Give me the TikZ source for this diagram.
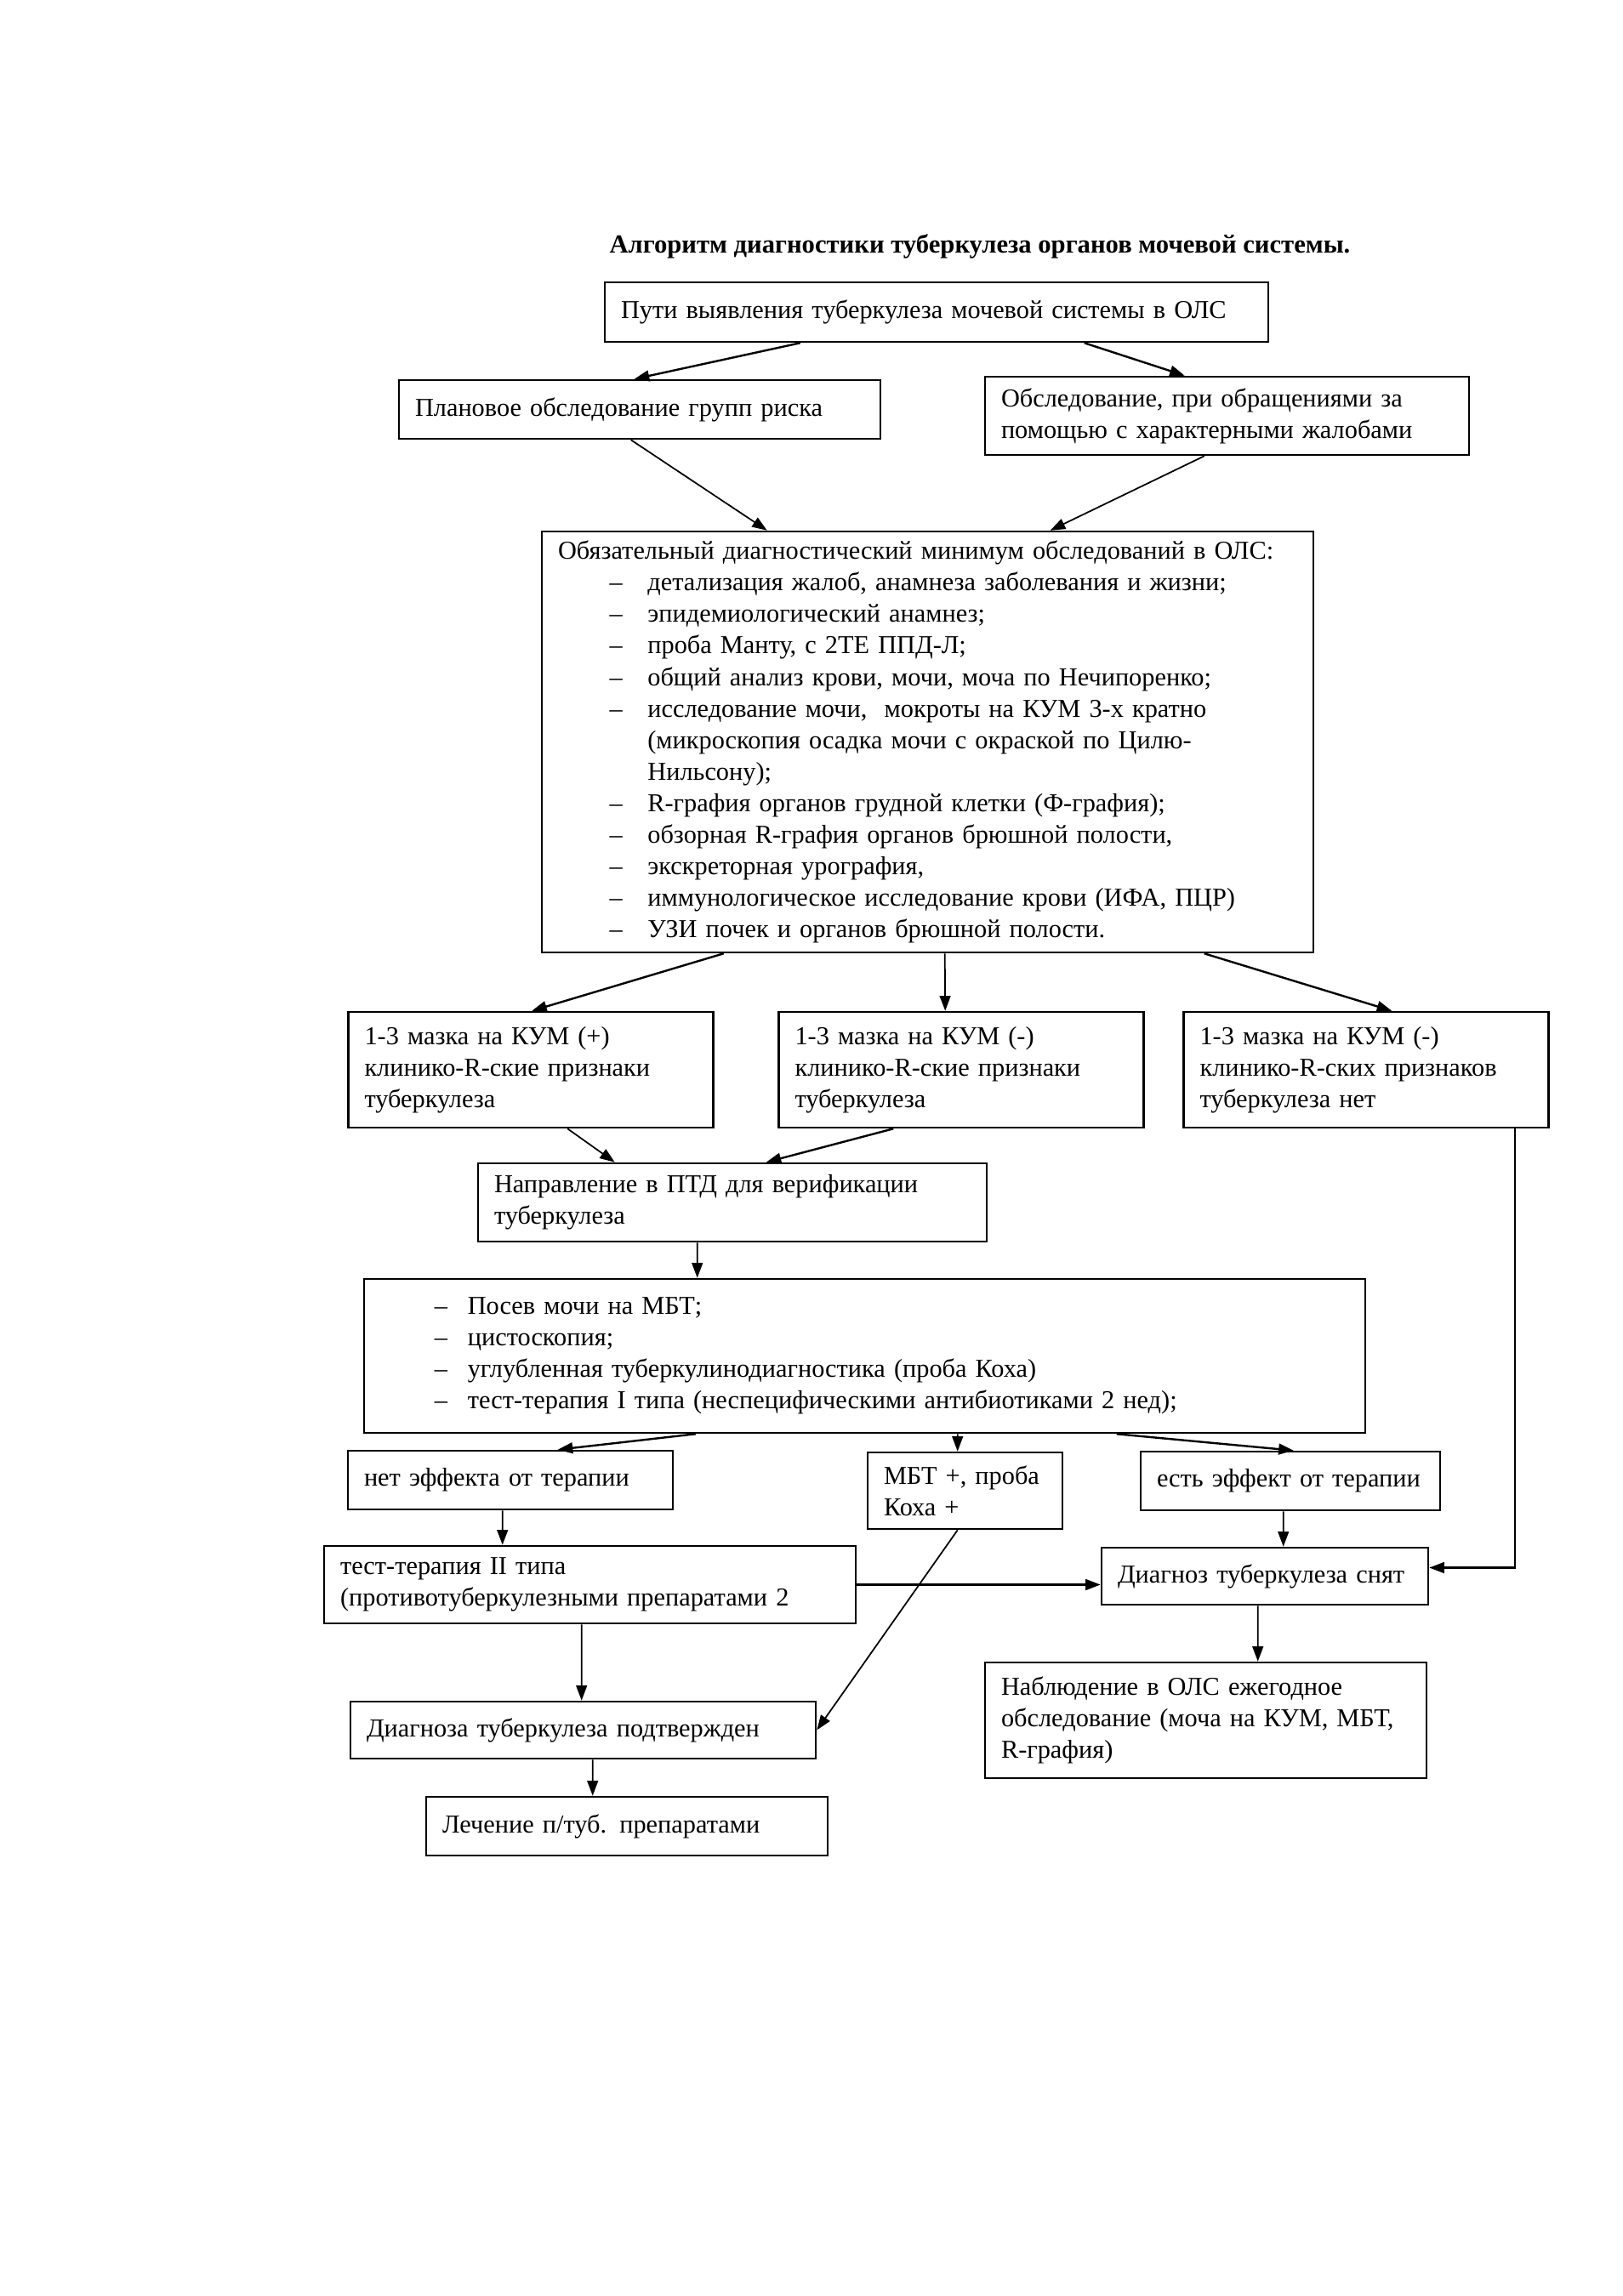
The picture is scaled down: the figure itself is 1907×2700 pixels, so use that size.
\documentclass[tikz,border=0pt]{standalone}
\usepackage{fontspec}
\setmainfont{Liberation Serif}
\usetikzlibrary{arrows.meta,calc}
\newcommand\ml[1]{\mbox{#1}}
\newcommand\itm[1]{\mbox{\hspace{19pt}\makebox[14pt][l]{–}#1}}
\newcommand\cnt[1]{\mbox{\hspace{33pt}#1}}
\newcommand\itmb[1]{\mbox{\hspace{20pt}\makebox[12.2pt][l]{–}#1}}
\begin{document}
\begin{tikzpicture}[x=0.31314pt,y=-0.31314pt,
  font=\fontsize{9.5pt}{11.6pt}\selectfont,
  bx/.style={draw, line width=0.8pt, rectangle, inner xsep=5.95pt, inner ysep=0pt, align=left},
  arr/.style={-{Triangle[length=5.5pt,width=4pt]}, line width=0.75pt},
  arrt/.style={-{Triangle[length=5.5pt,width=4pt]}, line width=0.55pt}]
\useasboundingbox (0,0) rectangle (1907,2700);

\node[font=\fontsize{9.6pt}{11.6pt}\selectfont\bfseries] (title) at (1152,290) {Алгоритм диагностики туберкулеза органов мочевой системы.};

\node[bx, text width=232.35pt, minimum height=21.92pt] (b1) at (1101,367) {\ml{Пути выявления туберкулеза мочевой системы в ОЛС}};
\node[bx, text width=165.34pt, minimum height=21.61pt] (b2) at (752,481.5) {\ml{Плановое обследование групп риска}};
\node[bx, text width=166.28pt, minimum height=28.81pt] (b3) at (1442.5,489) {\ml{Обследование, при обращениями за}\\\ml{помощью с характерными жалобами}};

\node[bx, text width=272.12pt, minimum height=155pt] (b4) at (1090.5,872.5) {%
\ml{Обязательный диагностический минимум обследований в ОЛС:}\\
\itm{детализация жалоб, анамнеза заболевания и жизни;}\\
\itm{эпидемиологический анамнез;}\\
\itm{проба Манту, с 2ТЕ ППД-Л;}\\
\itm{общий анализ крови, мочи, моча по Нечипоренко;}\\
\itm{исследование мочи,\ \ мокроты на КУМ 3-х кратно}\\
\cnt{(микроскопия осадка мочи с окраской по Цилю-}\\
\cnt{Нильсону);}\\
\itm{R-графия органов грудной клетки (Ф-графия);}\\
\itm{обзорная R-графия органов брюшной полости,}\\
\itm{экскреторная урография,}\\
\itm{иммунологическое исследование крови (ИФА, ПЦР)}\\
\itm{УЗИ почек и органов брюшной полости.}};

\node[bx, text width=122.44pt, minimum height=42.59pt] (A) at (624,1258) {\ml{1-3 мазка на КУМ (+)}\\\ml{клинико-R-ские признаки}\\\ml{туберкулеза}};
\node[bx, text width=122.44pt, minimum height=42.59pt] (B) at (1130,1258) {\ml{1-3 мазка на КУМ (-)}\\\ml{клинико-R-ские признаки}\\\ml{туберкулеза}};
\node[bx, text width=122.44pt, minimum height=42.59pt] (C) at (1606,1258) {\ml{1-3 мазка на КУМ (-)}\\\ml{клинико-R-ских признаков}\\\ml{туберкулеза нет}};

\node[bx, text width=175.36pt, minimum height=28.81pt] (P) at (861,1414) {\ml{Направление в ПТД для верификации}\\\ml{туберкулеза}};

\node[bx, text width=356.67pt, minimum height=56.68pt] (L) at (1016.5,1594.5) {%
\itmb{Посев мочи на МБТ;}\\
\itmb{цистоскопия;}\\
\itmb{углубленная туберкулинодиагностика (проба Коха)}\\
\itmb{тест-терапия I типа (неспецифическими антибиотиками 2 нед);}};

\node[bx, text width=107.72pt, minimum height=21.61pt] (D) at (600,1740.5) {\ml{нет эффекта от терапии}};
\node[bx, text width=59.81pt, minimum height=28.18pt] (E) at (1134.5,1753) {\ml{МБТ +, проба}\\\ml{Коха +}};
\node[bx, text width=98.33pt, minimum height=21.61pt] (F) at (1517,1741.5) {\ml{есть эффект от терапии}};

\node[bx, text width=183.81pt, minimum height=28.5pt] (G) at (693.5,1863.5) {\ml{тест-терапия II типа}\\\ml{(противотуберкулезными препаратами 2}};
\node[bx, text width=108.35pt, minimum height=20.98pt] (H) at (1487,1853.5) {\ml{Диагноз туберкулеза снят}};

\node[bx, text width=159.39pt, minimum height=20.98pt] (I) at (685.5,2034.5) {\ml{Диагноза туберкулеза подтвержден}};
\node[bx, text width=150.62pt, minimum height=42.59pt] (J) at (1417.5,2023) {\ml{Наблюдение в ОЛС ежегодное}\\\ml{обследование (моча на КУМ, МБТ,}\\\ml{R-графия)}};
\node[bx, text width=135.9pt, minimum height=21.61pt] (K) at (737,2147.5) {\ml{Лечение п/туб. препаратами}};

% connectors
\draw[arr] ($(b1.south west)+(231,0)$) -- ($(b2.north west)+(278,0)$);
\draw[arr] ($(b1.south west)+(565,0)$) -- ($(b3.north west)+(236,0)$);
\draw[arrt] ($(b2.south west)+(274,0)$) -- ($(b4.north west)+(266,0)$);
\draw[arrt] ($(b3.south west)+(259,0)$) -- ($(b4.north west)+(599,0)$);

\draw[arr] ($(b4.south west)+(215,0)$) -- ($(A.north west)+(217,0)$);
\draw[arrt] ($(b4.south west)+(475,0)$) -- ($(B.north west)+(197,0)$);
\draw[arr] ($(b4.south west)+(780,0)$) -- ($(C.north west)+(246,0)$);

\draw[arrt] ($(A.south west)+(259,0)$) -- ($(P.north west)+(162,0)$);
\draw[arr] ($(B.south west)+(136,0)$) -- ($(P.north west)+(340,0)$);
\draw[arrt] ($(P.south west)+(259,0)$) -- ($(L.north west)+(393,0)$);

\draw[arr] ($(L.south west)+(391,0)$) -- ($(D.north west)+(248,0)$);
\draw[arrt] ($(L.south west)+(699,0)$) -- ($(E.north west)+(107,0)$);
\draw[arr] ($(L.south west)+(886,0)$) -- ($(F.north west)+(181,0)$);

\draw[arrt] ($(D.south west)+(183,0)$) -- ($(G.north west)+(211,0)$);
\draw[arrt] ($(F.south west)+(169,0)$) -- ($(H.north west)+(215,0)$);
\draw[arr] (G.east) -- (G.east -| H.west);
\draw[arr] ($(C.south west)+(391,0)$) |- ($(H.east)+(0,-10)$);

\draw[arrt] ($(G.south west)+(304,0)$) -- ($(I.north west)+(273,0)$);
\draw[arrt] ($(E.south west)+(107,0)$) -- (I.east);
\draw[arrt] ($(H.south west)+(185,0)$) -- ($(J.north west)+(322,0)$);
\draw[arrt] ($(I.south west)+(286,0)$) -- ($(K.north west)+(197,0)$);
\end{tikzpicture}
\end{document}
